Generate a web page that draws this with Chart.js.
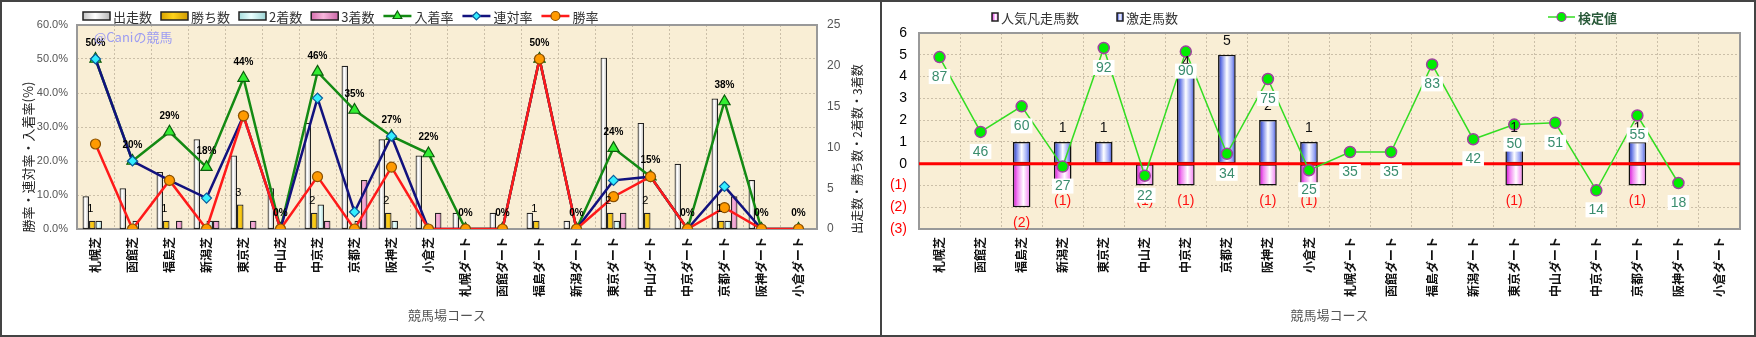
<!DOCTYPE html>
<html>
<head>
<meta charset="utf-8">
<script src="https://cdn.jsdelivr.net/npm/chart.js@4"></script>
<style>
  body { margin: 0; background: #fff; }
  #wrap { width: 1756px; height: 337px; box-sizing: border-box; border: 2px solid #444; display: flex; }
  #left { width: 878px; height: 333px; border-right: 2px solid #444; position: relative; }
  #right { width: 872px; height: 333px; position: relative; }
</style>
</head>
<body>
<div id="wrap">
  <div id="left"><canvas id="courseChart"></canvas></div>
  <div id="right"><canvas id="kenteiChart"></canvas></div>
</div>
<script>
// ---- data ----
const courses = ['札幌芝', '函館芝', '福島芝', '新潟芝', '東京芝', '中山芝', '中京芝', '京都芝', '阪神芝', '小倉芝',
  '札幌ダート', '函館ダート', '福島ダート', '新潟ダート', '東京ダート', '中山ダート', '中京ダート', '京都ダート', '阪神ダート', '小倉ダート'];

// left chart: counts (right axis)
const starts  = [4, 5, 7, 11, 9, 5, 13, 20, 11, 9, 2, 2, 2, 1, 21, 13, 8, 16, 6, 0];
const wins    = [1, 0, 1, 0, 3, 0, 2, 0, 2, 0, 0, 0, 1, 0, 2, 2, 0, 1, 0, 0];
const seconds = [1, 1, 0, 1, 0, 0, 3, 1, 1, 0, 0, 0, 0, 0, 1, 0, 0, 1, 0, 0];
const thirds  = [0, 0, 1, 1, 1, 0, 1, 6, 0, 2, 0, 0, 0, 0, 2, 0, 0, 4, 0, 0];
// left chart: rates in % (left axis)
const placeRate  = [50, 20, 28.6, 18.2, 44.4, 0, 46.2, 35, 27.3, 22.2, 0, 0, 50, 0, 23.8, 15.4, 0, 37.5, 0, 0];
const rentaiRate = [50, 20, 14.3, 9.1, 33.3, 0, 38.5, 5, 27.3, 0, 0, 0, 50, 0, 14.3, 15.4, 0, 12.5, 0, 0];
const winRate    = [25, 0, 14.3, 0, 33.3, 0, 15.4, 0, 18.2, 0, 0, 0, 50, 0, 9.5, 15.4, 0, 6.3, 0, 0];

// right chart
const gekisou = [0, 0, 1, 1, 1, 0, 4, 5, 2, 1, 0, 0, 0, 0, 1, 0, 0, 1, 0, 0];      // 激走馬数
const ninki   = [0, 0, -2, -1, 0, -1, -1, 0, -1, -1, 0, 0, 0, 0, -1, 0, 0, -1, 0, 0]; // 人気凡走馬数
const kentei  = [87, 46, 60, 27, 92, 22, 90, 34, 75, 25, 35, 35, 83, 42, 50, 51, 14, 55, 18, null]; // 検定値

const JP = '"Noto Sans CJK JP", "Noto Sans", sans-serif';
Chart.defaults.font.family = JP;
Chart.defaults.animation = false;
Chart.defaults.plugins.legend.display = false;
Chart.defaults.plugins.tooltip.enabled = false;

const PAPER = '#f9eed5';
const GRID = '#cbbfa8';

// gradient fills
const gStarts  = [[0, '#c4c4c4'], [0.45, '#ffffff'], [1, '#b8b8b8']];
const gWins    = [[0, '#d6a200'], [0.45, '#ffd21a'], [1, '#cf9a00']];
const gSeconds = [[0, '#a6dcdc'], [0.45, '#eaffff'], [1, '#9cd4d4']];
const gThirds  = [[0, '#d66fae'], [0.45, '#f8b6dc'], [1, '#cb66a7']];
const gBlue    = [[0, '#1a2aa8'], [0.2, '#7080e8'], [0.5, '#ffffff'], [0.8, '#9aa8f5'], [1, '#3343c8']];
const gPink    = [[0, '#d000d0'], [0.25, '#f080f0'], [0.6, '#ffffff'], [1, '#f070f0']];

function hGrad(ctx, x0, x1, stops) {
  const g = ctx.createLinearGradient(x0, 0, x1, 0);
  stops.forEach(s => g.addColorStop(s[0], s[1]));
  return g;
}

// fill for a bar sitting in slot `pos` of `n` within the category
function barFill(stops, pos, n, catPct) {
  return function (c) {
    const x = c.chart.scales.x;
    if (!x || c.dataIndex === undefined) return stops[1][1];
    const w = x.width / courses.length * catPct / n;
    const cx = x.getPixelForValue(c.dataIndex) + (pos - (n - 1) / 2) * w;
    if (!isFinite(cx) || !isFinite(w) || w <= 0) return stops[1][1];
    return hGrad(c.chart.ctx, cx - w / 2, cx + w / 2, stops);
  };
}

function noZero(arr) { return arr.map(v => (v === 0 ? null : v)); }

function vText(ctx, text, x, y, font, color) {
  ctx.save();
  ctx.translate(x, y);
  ctx.rotate(-Math.PI / 2);
  ctx.font = font;
  ctx.fillStyle = color;
  ctx.textAlign = 'center';
  ctx.textBaseline = 'middle';
  ctx.fillText(text, 0, 0);
  ctx.restore();
}

const paperPlugin = {
  id: 'paper',
  beforeDraw(chart) {
    const { ctx, chartArea: a } = chart;
    ctx.save();
    ctx.fillStyle = PAPER;
    ctx.fillRect(a.left, a.top, a.right - a.left, a.bottom - a.top);
    ctx.restore();
  },
  beforeDatasetsDraw(chart) {
    const { ctx, chartArea: a } = chart;
    ctx.save();
    ctx.strokeStyle = '#999';
    ctx.lineWidth = 2;
    ctx.strokeRect(a.left, a.top, a.right - a.left, a.bottom - a.top);
    ctx.restore();
  }
};

function drawLegend(ctx, items, x, y, gap) {
  ctx.save();
  ctx.textBaseline = 'middle';
  items.forEach(it => {
    if (it.type === 'bar') {
      ctx.fillStyle = hGrad(ctx, x, x + it.w, it.fill);
      ctx.fillRect(x, y - it.h / 2, it.w, it.h);
      ctx.strokeStyle = '#222';
      ctx.lineWidth = 1.5;
      ctx.strokeRect(x, y - it.h / 2, it.w, it.h);
    } else {
      ctx.strokeStyle = it.color;
      ctx.lineWidth = it.lw;
      ctx.beginPath();
      ctx.moveTo(x, y);
      ctx.lineTo(x + it.w, y);
      ctx.stroke();
      ctx.fillStyle = it.pfill;
      ctx.strokeStyle = it.pborder;
      ctx.lineWidth = 1.2;
      Chart.helpers.drawPoint(ctx, { pointStyle: it.style, radius: it.r, rotation: 0, borderWidth: 1.2 }, x + it.w / 2, y);
    }
    x += it.w + 3;
    ctx.font = it.font;
    ctx.fillStyle = it.tcolor || '#333';
    ctx.textAlign = 'left';
    ctx.fillText(it.text, x, y + 1);
    x += ctx.measureText(it.text).width + gap;
  });
  ctx.restore();
}

// ---- left chart ----
const leftLabels = {
  id: 'leftLabels',
  afterDatasetsDraw(chart) {
    const { ctx } = chart;
    ctx.save();
    ctx.textAlign = 'center';
    ctx.textBaseline = 'middle';
    ctx.fillStyle = '#000';
    ctx.font = 'bold 10px "Liberation Sans", sans-serif';
    chart.getDatasetMeta(2).data.forEach((pt, i) => {
      ctx.fillText(Math.round(placeRate[i]) + '%', pt.x, pt.y - 16);
    });
    ctx.font = '11px "Liberation Sans", sans-serif';
    chart.getDatasetMeta(4).data.forEach((bar, i) => {
      if (wins[i] > 0) ctx.fillText(String(wins[i]), bar.x - 2, bar.y - 12);
    });
    ctx.restore();
  },
  afterDraw(chart) {
    const { ctx, chartArea: a } = chart;
    drawLegend(ctx, [
      { type: 'bar', text: '出走数', fill: gStarts, w: 27, h: 8, font: '13px ' + JP },
      { type: 'bar', text: '勝ち数', fill: gWins, w: 27, h: 8, font: '13px ' + JP },
      { type: 'bar', text: '2着数', fill: gSeconds, w: 27, h: 8, font: '13px ' + JP },
      { type: 'bar', text: '3着数', fill: gThirds, w: 27, h: 8, font: '13px ' + JP },
      { type: 'line', text: '入着率', color: '#138a13', lw: 2.5, style: 'triangle', r: 5, pfill: '#33ee33', pborder: '#0d5d0d', w: 28, font: '13px ' + JP },
      { type: 'line', text: '連対率', color: '#12127e', lw: 2.5, style: 'rectRot', r: 4, pfill: '#33eeff', pborder: '#0a5a9a', w: 28, font: '13px ' + JP },
      { type: 'line', text: '勝率', color: '#ff1a1a', lw: 2.5, style: 'circle', r: 4.5, pfill: '#ff9a00', pborder: '#8a5000', w: 28, font: '13px ' + JP }
    ], a.left + 6, 14, 9);
    ctx.save();
    ctx.font = '13px ' + JP;
    ctx.fillStyle = '#9c9cf2';
    ctx.textBaseline = 'middle';
    ctx.fillText('@Caniの競馬', a.left + 17, a.top + 12);
    ctx.restore();
    vText(ctx, '勝率・連対率・入着率(%)', 26, 155, '13px ' + JP, '#222');
    vText(ctx, '出走数・勝ち数・2着数・3着数', chart.width - 23, 147, '12px ' + JP, '#222');
  }
};

const lineBase = { type: 'line', yAxisID: 'y', tension: 0, borderWidth: 2.5, pointBorderWidth: 1.2 };

new Chart(document.getElementById('courseChart'), {
  type: 'bar',
  data: {
    labels: courses,
    datasets: [
      Object.assign({}, lineBase, { label: '勝率', data: winRate, order: 0, borderColor: '#ff1a1a',
        pointStyle: 'circle', pointRadius: 5, pointBackgroundColor: '#ff9a00', pointBorderColor: '#8a5000' }),
      Object.assign({}, lineBase, { label: '連対率', data: rentaiRate, order: 1, borderColor: '#12127e',
        pointStyle: 'rectRot', pointRadius: 5, pointBackgroundColor: '#33eeff', pointBorderColor: '#0a5a9a' }),
      Object.assign({}, lineBase, { label: '入着率', data: placeRate, order: 2, borderColor: '#138a13',
        pointStyle: 'triangle', pointRadius: 6.5, pointBackgroundColor: '#33ee33', pointBorderColor: '#0d5d0d' }),
      { label: '出走数', data: noZero(starts), yAxisID: 'y2', order: 3, backgroundColor: barFill(gStarts, 0, 4, 0.7),
        borderColor: '#222', borderWidth: 1.2, borderSkipped: false, categoryPercentage: 0.7, barPercentage: 1 },
      { label: '勝ち数', data: noZero(wins), yAxisID: 'y2', order: 4, backgroundColor: barFill(gWins, 1, 4, 0.7),
        borderColor: '#222', borderWidth: 1.2, borderSkipped: false, categoryPercentage: 0.7, barPercentage: 1 },
      { label: '2着数', data: noZero(seconds), yAxisID: 'y2', order: 5, backgroundColor: barFill(gSeconds, 2, 4, 0.7),
        borderColor: '#222', borderWidth: 1.2, borderSkipped: false, categoryPercentage: 0.7, barPercentage: 1 },
      { label: '3着数', data: noZero(thirds), yAxisID: 'y2', order: 6, backgroundColor: barFill(gThirds, 3, 4, 0.7),
        borderColor: '#222', borderWidth: 1.2, borderSkipped: false, categoryPercentage: 0.7, barPercentage: 1 }
    ]
  },
  options: {
    responsive: true,
    maintainAspectRatio: false,
    layout: { padding: { top: 23, left: 0, right: 0, bottom: 0 } },
    scales: {
      x: {
        offset: true,
        grid: { offset: true, color: GRID, drawTicks: false },
        border: { display: false, dash: [2, 2] },
        ticks: { autoSkip: false, minRotation: 90, maxRotation: 90, padding: 8, color: '#111', font: { size: 12, weight: 'bold' } },
        title: { display: true, text: '競馬場コース', color: '#555', font: { size: 13 }, padding: { top: 0, bottom: 12 } },
        afterFit(s) { s.height = 106; }
      },
      y: {
        position: 'left', min: 0, max: 60,
        grid: { color: GRID, drawTicks: false },
        border: { display: false, dash: [2, 2] },
        ticks: { stepSize: 10, padding: 9, color: '#555', font: { size: 11, family: '"Liberation Sans", sans-serif' },
          callback: v => v.toFixed(1) + '%' },
        afterFit(s) { s.width = 75; }
      },
      y2: {
        position: 'right', min: 0, max: 25,
        grid: { display: false, drawTicks: false },
        border: { display: false },
        ticks: { stepSize: 5, padding: 10, color: '#555', font: { size: 12, family: '"Liberation Sans", sans-serif' } },
        afterFit(s) { s.width = 63; }
      }
    }
  },
  plugins: [paperPlugin, leftLabels]
});

// ---- right chart ----
const rightLabels = {
  id: 'rightLabels',
  beforeDatasetDraw(chart, args) {
    if (args.index !== 0) return;
    // red zero line under the 検定値 line
    const { ctx, chartArea: a } = chart;
    const y0 = chart.scales.y.getPixelForValue(0);
    ctx.save();
    ctx.strokeStyle = '#ff0000';
    ctx.lineWidth = 3;
    ctx.beginPath();
    ctx.moveTo(a.left, y0);
    ctx.lineTo(a.right, y0);
    ctx.stroke();
    ctx.restore();
  },
  afterDraw(chart) {
    const { ctx } = chart;
    ctx.save();
    ctx.textAlign = 'center';
    ctx.textBaseline = 'middle';
    ctx.font = '14px "Liberation Sans", sans-serif';
    chart.getDatasetMeta(1).data.forEach((bar, i) => {
      if (gekisou[i] > 0) { ctx.fillStyle = '#111'; ctx.fillText(String(gekisou[i]), bar.x, bar.y - 14); }
    });
    chart.getDatasetMeta(2).data.forEach((bar, i) => {
      if (ninki[i] < 0) { ctx.fillStyle = '#ff1010'; ctx.fillText('(' + (-ninki[i]) + ')', bar.x, bar.y + 16); }
    });
    chart.getDatasetMeta(0).data.forEach((pt, i) => {
      if (kentei[i] == null) return;
      const t = String(kentei[i]);
      const w = ctx.measureText(t).width + 6;
      ctx.fillStyle = '#ffffff';
      ctx.fillRect(pt.x - w / 2, pt.y + 12, w, 15);
      ctx.fillStyle = '#3a8d6e';
      ctx.fillText(t, pt.x, pt.y + 20);
    });
    ctx.restore();
    drawLegend(ctx, [{ type: 'bar', text: '人気凡走馬数', fill: gPink, w: 6, h: 8, font: '13px ' + JP }], 110, 15, 6);
    drawLegend(ctx, [{ type: 'bar', text: '激走馬数', fill: gBlue, w: 6, h: 8, font: '13px ' + JP }], 235, 15, 6);
    drawLegend(ctx, [{ type: 'line', text: '検定値', color: '#33dd22', lw: 1.5, style: 'circle', r: 4.5,
      pfill: '#00ee00', pborder: '#a040a0', w: 27, font: 'bold 13px ' + JP, tcolor: '#2a5a3a' }], 666, 15, 6);
  }
};

new Chart(document.getElementById('kenteiChart'), {
  type: 'bar',
  data: {
    labels: courses,
    datasets: [
      { type: 'line', label: '検定値', data: kentei, yAxisID: 'yv', order: 0, tension: 0,
        borderColor: '#33dd22', borderWidth: 1.5, pointRadius: 5.5, pointBackgroundColor: '#00ee00',
        pointBorderColor: '#a040a0', pointBorderWidth: 1.5 },
      { label: '激走馬数', data: noZero(gekisou), yAxisID: 'y', stack: 'a', order: 1,
        backgroundColor: barFill(gBlue, 0, 1, 0.43), borderColor: '#111', borderWidth: 1.5, borderSkipped: false,
        categoryPercentage: 1, barPercentage: 0.43 },
      { label: '人気凡走馬数', data: noZero(ninki), yAxisID: 'y', stack: 'a', order: 2,
        backgroundColor: barFill(gPink, 0, 1, 0.43), borderColor: '#111', borderWidth: 1.5, borderSkipped: false,
        categoryPercentage: 1, barPercentage: 0.43 }
    ]
  },
  options: {
    responsive: true,
    maintainAspectRatio: false,
    layout: { padding: { top: 31, left: 0, right: 14, bottom: 0 } },
    scales: {
      x: {
        stacked: true,
        offset: true,
        grid: { offset: true, color: GRID, drawTicks: false },
        border: { display: false, dash: [2, 2] },
        ticks: { autoSkip: false, minRotation: 90, maxRotation: 90, padding: 8, color: '#111', font: { size: 12, weight: 'bold' } },
        title: { display: true, text: '競馬場コース', color: '#555', font: { size: 13 }, padding: { top: 0, bottom: 12 } },
        afterFit(s) { s.height = 106; }
      },
      y: {
        stacked: true, min: -3, max: 6,
        grid: { color: GRID, drawTicks: false },
        border: { display: false, dash: [2, 2] },
        ticks: { stepSize: 1, padding: 12, font: { size: 14, family: '"Liberation Sans", sans-serif' },
          color: c => (c.tick && c.tick.value < 0 ? '#ff0000' : '#000'),
          callback: v => (v < 0 ? '(' + (-v) + ')' : String(v)) },
        afterFit(s) { s.width = 37; }
      },
      yv: { display: false, min: -7.2, max: 100.2 }
    }
  },
  plugins: [paperPlugin, rightLabels]
});
</script>
</body>
</html>
